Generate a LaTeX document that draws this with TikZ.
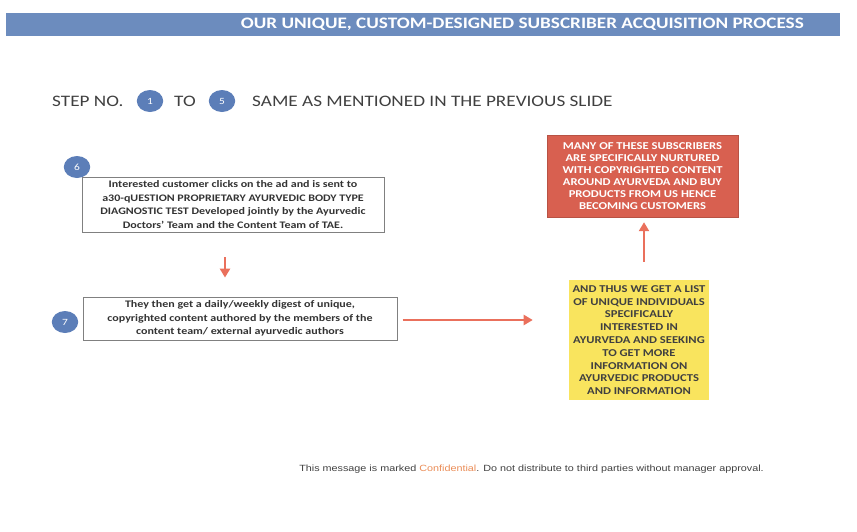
\documentclass[tikz,border=0pt]{standalone}
\usepackage{fontspec}
\setmainfont{Carlito}
\newfontfamily\footfont{Liberation Sans}
\usetikzlibrary{arrows.meta}

\definecolor{bandblue}{RGB}{108,140,190}
\definecolor{stepblue}{RGB}{92,126,184}
\definecolor{arrowred}{RGB}{234,112,92}
\definecolor{boxred}{RGB}{216,96,80}
\definecolor{boxyellow}{RGB}{249,228,94}
\definecolor{confid}{RGB}{234,140,86}
\definecolor{inkgray}{RGB}{64,64,64}

\tikzset{
  wide/.style={xscale=1.2,transform shape},
  stepnum/.style={wide,circle,fill=stepblue,text=white,minimum size=22pt,inner sep=0pt,
    font=\fontsize{9.5}{9.5}\selectfont},
  steptext/.style={wide,text=inkgray,inner sep=0pt,font=\fontsize{16}{16}\selectfont},
  textbox/.style={wide,rectangle,draw=black!50,line width=0.8pt,align=center,text=black!80,
    font=\bfseries\fontsize{10}{13.5}\selectfont},
  capsbox/.style={wide,rectangle,align=center,inner sep=1pt,
    font=\bfseries\fontsize{10.5}{12}\selectfont},
  arr/.style={-{Triangle[length=9pt,width=10pt]},draw=arrowred,line width=2.7pt},
}

\begin{document}
\begin{tikzpicture}[x=1pt,y=-1pt]
  \useasboundingbox (0,0) rectangle (857,531);

  % header band
  \fill[bandblue] (6,13) rectangle (840,36);
  \node[wide,anchor=east,text=white,inner sep=0pt,font=\bfseries\fontsize{16}{16}\selectfont]
    (title) at (804,24.5) {OUR UNIQUE, CUSTOM-DESIGNED SUBSCRIBER ACQUISITION PROCESS};

  % steps 1 to 5
  \node[steptext,anchor=west] (stepno) at (52,101) {STEP NO.};
  \node[stepnum] (s1) at (150,101) {1};
  \node[steptext] (to) at (185,101) {TO};
  \node[stepnum] (s5) at (222,101) {5};
  \node[steptext,anchor=west] (same) at (252,101) {SAME AS MENTIONED IN THE PREVIOUS SLIDE};

  % step 6 and 7
  \node[textbox,minimum width=251.7pt,minimum height=55pt] (box6) at (233,204.5)
    {Interested customer clicks on the ad and is sent to\\
     a30-qUESTION PROPRIETARY AYURVEDIC BODY TYPE\\
     DIAGNOSTIC TEST Developed jointly by the Ayurvedic\\
     Doctors’ Team and the Content Team of TAE.};
  \node[stepnum] (n6) at (77,167) {6};
  \node[textbox,minimum width=261.7pt,minimum height=43pt] (box7) at (240,318.5)
    {They then get a daily/weekly digest of unique,\\
     copyrighted content authored by the members of the\\
     content team/ external ayurvedic authors};
  \node[stepnum] (n7) at (65,322) {7};

  % result boxes
  \node[capsbox,fill=boxred,draw=boxred!85!black,text=white,
    minimum width=159.2pt,minimum height=82pt] (nurture) at (642.5,176)
    {MANY OF THESE SUBSCRIBERS\\
     ARE SPECIFICALLY NURTURED\\
     WITH COPYRIGHTED CONTENT\\
     AROUND AYURVEDA AND BUY\\
     PRODUCTS FROM US HENCE\\
     BECOMING CUSTOMERS};
  \node[capsbox,fill=boxyellow,text=inkgray,font=\bfseries\fontsize{10.5}{12.8}\selectfont,
    minimum width=116.7pt,minimum height=120pt] (list) at (639,340)
    {AND THUS WE GET A LIST\\
     OF UNIQUE INDIVIDUALS\\
     SPECIFICALLY\\
     INTERESTED IN\\
     AYURVEDA AND SEEKING\\
     TO GET MORE\\
     INFORMATION ON\\
     AYURVEDIC PRODUCTS\\
     AND INFORMATION};

  % arrows
  \draw[arr,shorten <=25pt,shorten >=19pt] ([xshift=-8pt]box6.south)
    -- ([xshift=-8pt]box6.south |- box7.north);
  \draw[arr,shorten <=5pt,shorten >=36pt] ([yshift=-1.5pt]box7.east)
    -- ([yshift=-1.5pt]box7.east -| list.west);
  \draw[arr,shorten <=18pt,shorten >=5pt] ([xshift=5pt]list.north)
    -- ([xshift=5pt]list.north |- nurture.south);

  % footer
  \node[wide,text=inkgray,font=\footfont\fontsize{9}{10}\selectfont] (footer) at (531.5,469)
    {This message is marked \textcolor{confid}{Confidential}. Do not distribute to third parties without manager approval.};
\end{tikzpicture}
\end{document}
